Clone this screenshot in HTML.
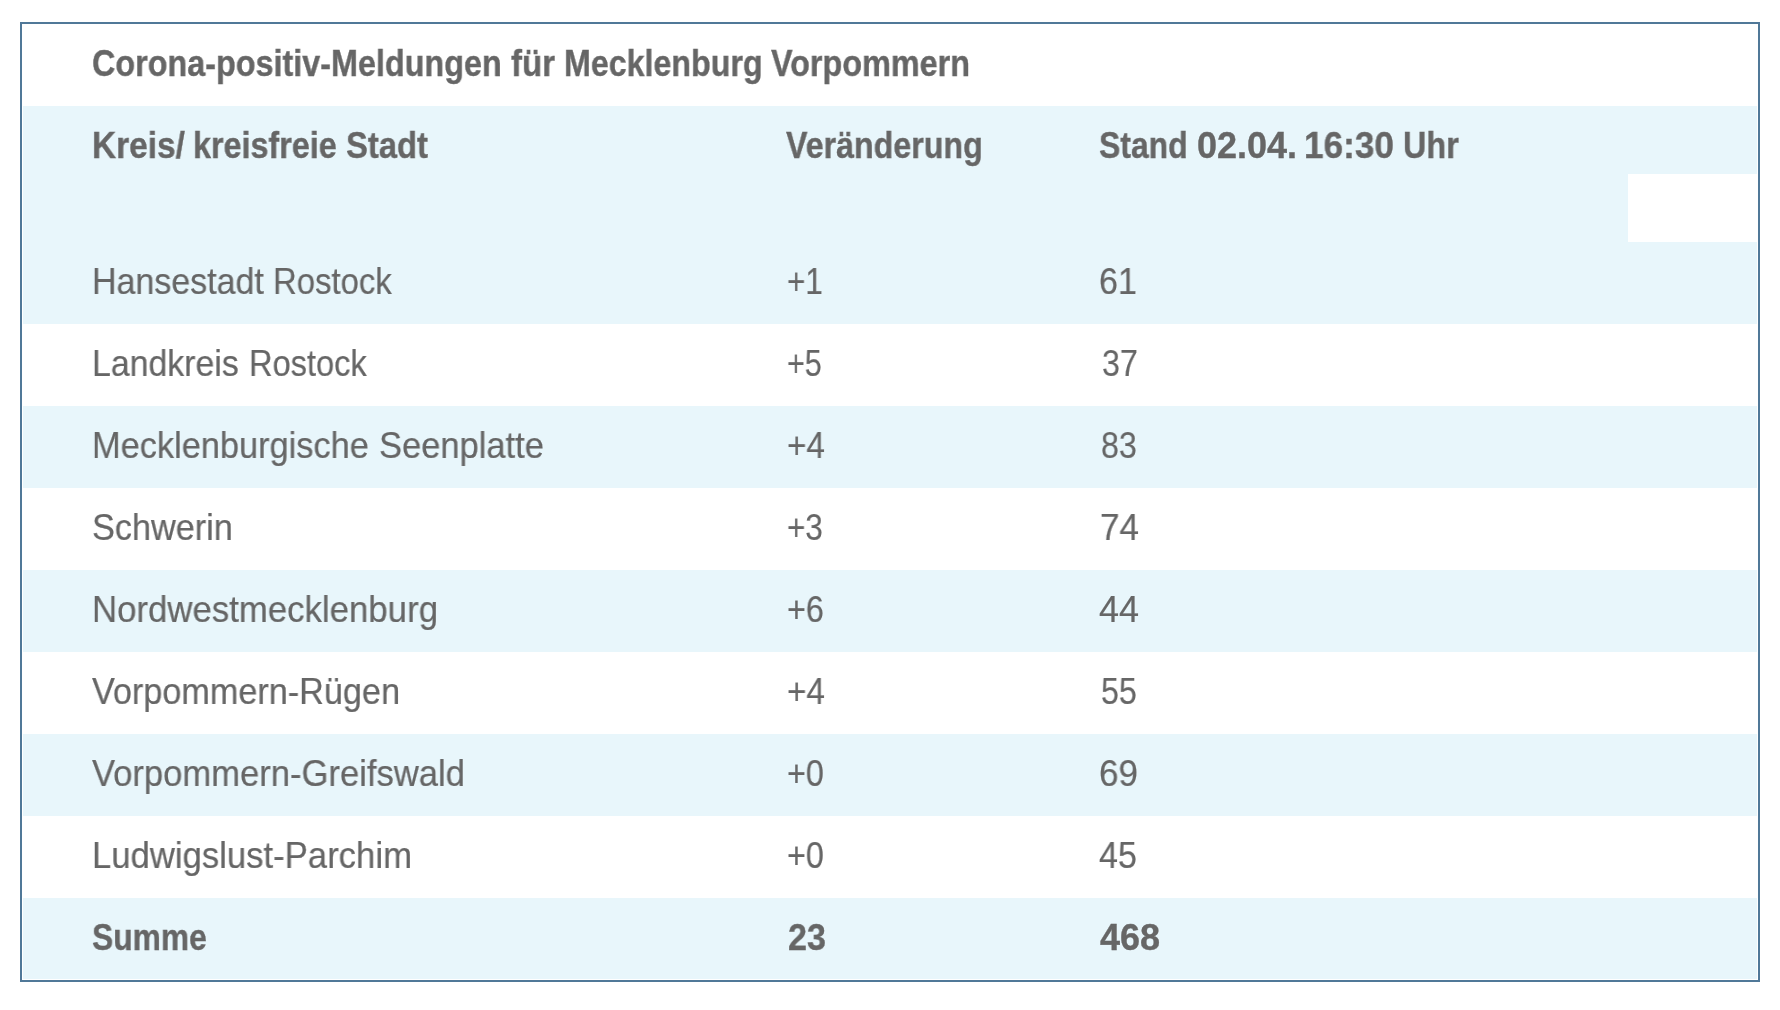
<!DOCTYPE html>
<html lang="de"><head><meta charset="utf-8"><title>Corona-positiv-Meldungen</title><style>
html,body{margin:0;padding:0;background:#fff}
body{width:1780px;height:1010px;position:relative;overflow:hidden;font-family:"Liberation Sans",sans-serif;color:#666666}
.box{position:absolute;left:20px;top:22px;width:1736px;height:956px;border:2px solid #507898}
.bg{position:absolute;left:23px;width:1734px;background:#e8f6fb}
.w{position:absolute;white-space:pre;font-size:36.0px;line-height:0;height:0;transform-origin:0 0;will-change:transform;-webkit-text-stroke:0.2px #666666}
.b{font-weight:bold;-webkit-text-stroke:0.35px #666666}
</style></head><body>
<div class='box'></div>
<div class='bg' style='top:106px;height:218px'></div>
<div class='bg' style='top:406px;height:82px'></div>
<div class='bg' style='top:570px;height:82px'></div>
<div class='bg' style='top:734px;height:82px'></div>
<div class='bg' style='top:898px;height:81px'></div>
<div style='position:absolute;left:1628px;top:174px;width:130px;height:68px;background:#fff'></div>
<div class='w b' style='left:92.10px;top:63.52px;transform:scaleX(0.8985)'>Corona-positiv-Meldungen</div>
<div class='w b' style='left:511.00px;top:63.52px;transform:scaleX(0.9167)'>für</div>
<div class='w b' style='left:564.21px;top:63.52px;transform:scaleX(0.8945)'>Mecklenburg</div>
<div class='w b' style='left:771.00px;top:63.52px;transform:scaleX(0.8995)'>Vorpommern</div>
<div class='w b' style='left:92.14px;top:145.52px;transform:scaleX(0.9286)'>Kreis/</div>
<div class='w b' style='left:193.20px;top:145.52px;transform:scaleX(0.8981)'>kreisfreie</div>
<div class='w b' style='left:346.09px;top:145.52px;transform:scaleX(0.9101)'>Stadt</div>
<div class='w b' style='left:786.00px;top:145.52px;transform:scaleX(0.8945)'>Veränderung</div>
<div class='w b' style='left:1099.11px;top:145.52px;transform:scaleX(0.8866)'>Stand</div>
<div class='w b' style='left:1197.00px;top:145.52px;transform:scaleX(1.0000)'>02.04.</div>
<div class='w b' style='left:1304.04px;top:145.52px;transform:scaleX(0.9775)'>16:30</div>
<div class='w b' style='left:1403.20px;top:145.52px;transform:scaleX(0.9000)'>Uhr</div>
<div class='w' style='left:92.17px;top:281.52px;transform:scaleX(0.9441)'>Hansestadt</div>
<div class='w' style='left:273.26px;top:281.52px;transform:scaleX(0.9134)'>Rostock</div>
<div class='w' style='left:787.13px;top:281.52px;transform:scaleX(0.8718)'>+1</div>
<div class='w' style='left:1099.11px;top:281.52px;transform:scaleX(0.9459)'>61</div>
<div class='w' style='left:92.18px;top:363.52px;transform:scaleX(0.9408)'>Landkreis</div>
<div class='w' style='left:249.28px;top:363.52px;transform:scaleX(0.9055)'>Rostock</div>
<div class='w' style='left:787.15px;top:363.52px;transform:scaleX(0.8462)'>+5</div>
<div class='w' style='left:1102.11px;top:363.52px;transform:scaleX(0.8947)'>37</div>
<div class='w' style='left:92.14px;top:445.52px;transform:scaleX(0.9545)'>Mecklenburgische</div>
<div class='w' style='left:379.08px;top:445.52px;transform:scaleX(0.9586)'>Seenplatte</div>
<div class='w' style='left:787.08px;top:445.52px;transform:scaleX(0.9231)'>+4</div>
<div class='w' style='left:1101.11px;top:445.52px;transform:scaleX(0.8947)'>83</div>
<div class='w' style='left:92.10px;top:527.52px;transform:scaleX(0.9514)'>Schwerin</div>
<div class='w' style='left:787.13px;top:527.52px;transform:scaleX(0.8718)'>+3</div>
<div class='w' style='left:1100.05px;top:527.52px;transform:scaleX(0.9730)'>74</div>
<div class='w' style='left:92.10px;top:609.52px;transform:scaleX(0.9660)'>Nordwestmecklenburg</div>
<div class='w' style='left:787.10px;top:609.52px;transform:scaleX(0.8974)'>+6</div>
<div class='w' style='left:1099.00px;top:609.52px;transform:scaleX(1.0000)'>44</div>
<div class='w' style='left:92.00px;top:691.52px;transform:scaleX(0.9503)'>Vorpommern-Rügen</div>
<div class='w' style='left:787.08px;top:691.52px;transform:scaleX(0.9231)'>+4</div>
<div class='w' style='left:1101.11px;top:691.52px;transform:scaleX(0.8947)'>55</div>
<div class='w' style='left:92.00px;top:773.52px;transform:scaleX(0.9611)'>Vorpommern-Greifswald</div>
<div class='w' style='left:787.10px;top:773.52px;transform:scaleX(0.8974)'>+0</div>
<div class='w' style='left:1099.05px;top:773.52px;transform:scaleX(0.9730)'>69</div>
<div class='w' style='left:92.11px;top:855.52px;transform:scaleX(0.9633)'>Ludwigslust-Parchim</div>
<div class='w' style='left:787.10px;top:855.52px;transform:scaleX(0.8974)'>+0</div>
<div class='w' style='left:1099.05px;top:855.52px;transform:scaleX(0.9474)'>45</div>
<div class='w b' style='left:92.12px;top:937.52px;transform:scaleX(0.8828)'>Summe</div>
<div class='w b' style='left:788.05px;top:937.52px;transform:scaleX(0.9474)'>23</div>
<div class='w b' style='left:1100.00px;top:937.52px;transform:scaleX(1.0000)'>468</div>
</body></html>
